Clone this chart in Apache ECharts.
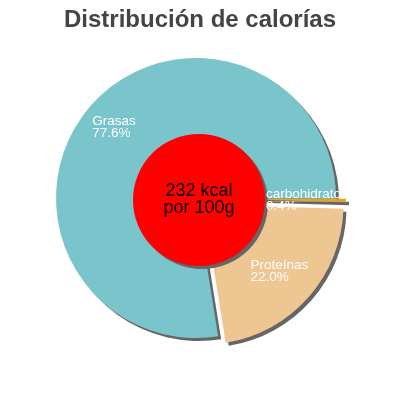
<!DOCTYPE html>
<html>
<head>
<meta charset="utf-8">
<script src="https://cdn.jsdelivr.net/npm/echarts@6/dist/echarts.min.js"></script>
<style>
html,body{margin:0;padding:0;background:#fff;}
#chart{width:400px;height:400px;}
</style>
</head>
<body>
<div id="chart"></div>
<script>
const titleText = 'Distribución de calorías';
const categories = ['Grasas', 'carbohidratos', 'Proteínas'];
const percentages = [77.6, 0.4, 22.0];
const exploded = [false, true, true];
const sliceColors = ['#7ac4cc', '#e2a624', '#edc692'];
const energyLines = ['232 kcal', 'por 100g'];

const chart = echarts.init(document.getElementById('chart'));

const pieData = categories.map((c, i) => ({
  name: c,
  value: percentages[i],
  selected: exploded[i],
  itemStyle: { color: sliceColors[i] }
}));

const labelData = categories.map((c, i) => ({
  name: c,
  value: percentages[i],
  selected: exploded[i]
}));

const shadow = { shadowColor: '#666', shadowOffsetX: 3, shadowOffsetY: 3, shadowBlur: 0 };

chart.setOption({
  animation: false,
  title: {
    text: titleText,
    left: 'center',
    top: 3,
    textStyle: { fontFamily: 'Liberation Sans', fontSize: 24, fontWeight: 'bold', color: '#444' }
  },
  series: [
    {
      type: 'pie',
      center: [196, 198],
      radius: [0, 140],
      startAngle: 279.1,
      clockwise: true,
      selectedMode: 'multiple',
      selectedOffset: 10,
      avoidLabelOverlap: false,
      silent: true,
      label: { show: false },
      labelLine: { show: false },
      itemStyle: Object.assign({ borderWidth: 0 }, shadow),
      data: pieData,
      z: 2
    },
    {
      type: 'pie',
      center: [196, 198],
      radius: [70, 140],
      startAngle: 279.1,
      clockwise: true,
      selectedMode: 'multiple',
      selectedOffset: 3,
      avoidLabelOverlap: false,
      silent: true,
      itemStyle: { color: 'rgba(0,0,0,0)', borderWidth: 0 },
      labelLine: { show: false },
      label: {
        show: true,
        position: 'inside',
        formatter: p => '{t|' + p.name + '}\n{t|' + p.value.toFixed(1) + '%}',
        rich: {
          t: { align: 'left', color: '#fff', fontFamily: 'Liberation Sans', fontSize: 13.5, lineHeight: 12, textBorderWidth: 0 }
        }
      },
      data: labelData,
      z: 4
    },
    {
      type: 'pie',
      center: [199, 200],
      radius: [0, 66],
      silent: true,
      itemStyle: Object.assign({ color: '#ff0000', borderWidth: 0 }, shadow),
      labelLine: { show: false },
      label: {
        show: true,
        position: 'center',
        formatter: energyLines.join('\n'),
        color: '#000',
        fontFamily: 'Liberation Sans',
        fontSize: 18,
        lineHeight: 17
      },
      data: [{ name: 'energia', value: 1 }],
      z: 3
    }
  ]
});
</script>
</body>
</html>
